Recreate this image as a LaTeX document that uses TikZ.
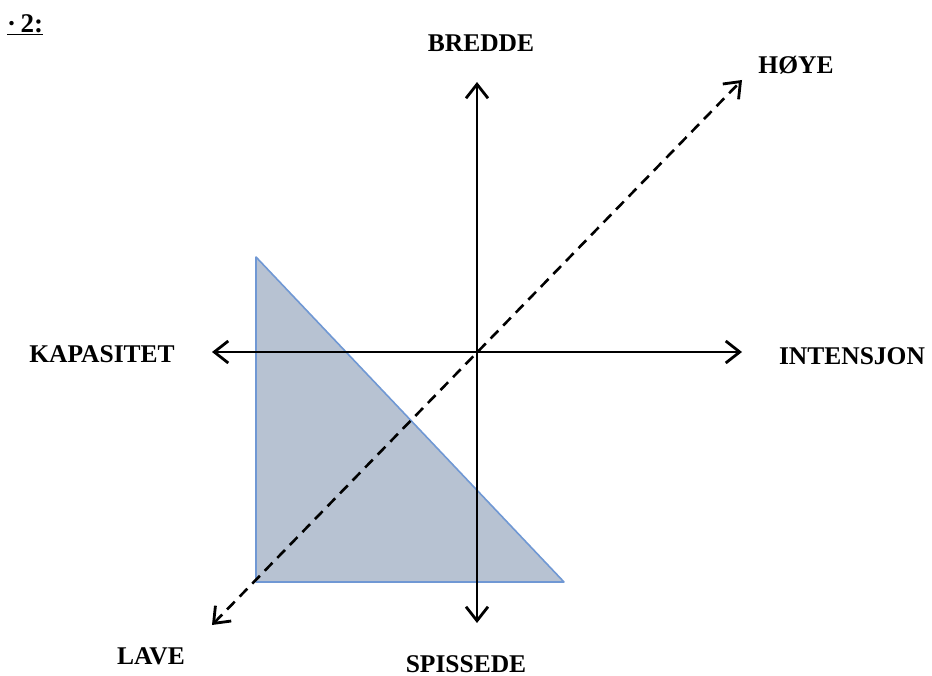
\documentclass[tikz,border=0pt]{standalone}
\usepackage{fontspec}
\setmainfont{Liberation Serif}
\usetikzlibrary{positioning, arrows.meta}

\definecolor{trekantfyll}{RGB}{183,194,210}
\definecolor{trekantkant}{RGB}{112,152,212}

\begin{document}
\begin{tikzpicture}[
		x=1pt, y=-1pt,
		% Stil for aksene
		akse/.style={{Straight Barb[length=14pt,width=22pt,line width=2.8pt]}-{Straight Barb[length=14pt,width=22pt,line width=2.8pt]}, line width=2.6pt, draw=black},
		diagonal/.style={akse, dash pattern=on 11pt off 7pt},
		% Stil for trekanten
		omrade/.style={draw=trekantkant, line width=1.6pt, fill=trekantfyll, line join=round},
		% Stil for tekstene
		etikett/.style={font=\bfseries\fontsize{25.5}{25.5}\selectfont, inner sep=0pt, text=black}
		]
		\useasboundingbox (0,0) rectangle (932,676);
		
		% --- ENDEPUNKTER FOR AKSENE ---
		\coordinate (origo) at (477,352);
		\coordinate (venstre) at (212,352);
		\coordinate (hoyre) at (742,352);
		\coordinate (topp) at (477,82);
		\coordinate (bunn) at (477,623);
		\coordinate (lav) at (212,625);
		\coordinate (hoy) at (742,80);
		
		% --- TREKANTEN ---
		\coordinate (hjorne1) at (256,257);
		\coordinate (hjorne2) at (256,582);
		\coordinate (hjorne3) at (564,582);
		\draw[omrade] (hjorne1) -- (hjorne2) -- (hjorne3) -- cycle;
		
		% --- AKSENE ---
		\draw[akse] (venstre) -- (hoyre);
		\draw[akse] (bunn) -- (topp);
		\draw[diagonal] (lav) -- (hoy);
		
		% --- TEKSTER ---
		\node[etikett] (bredde) at (481,43) {BREDDE};
		\node[etikett] (hoye) at (796,65) {HØYE};
		\node[etikett] (kapasitet) at (102,354) {KAPASITET};
		\node[etikett] (intensjon) at (852,356) {INTENSJON};
		\node[etikett] (lave) at (151,656) {LAVE};
		\node[etikett] (spissede) at (466,664) {SPISSEDE};
		\node[font=\bfseries\fontsize{27}{27}\selectfont, inner sep=0pt, anchor=west] (figur) at (7,25) {\underline{\textperiodcentered\,2:}};
		
	\end{tikzpicture}
\end{document}
